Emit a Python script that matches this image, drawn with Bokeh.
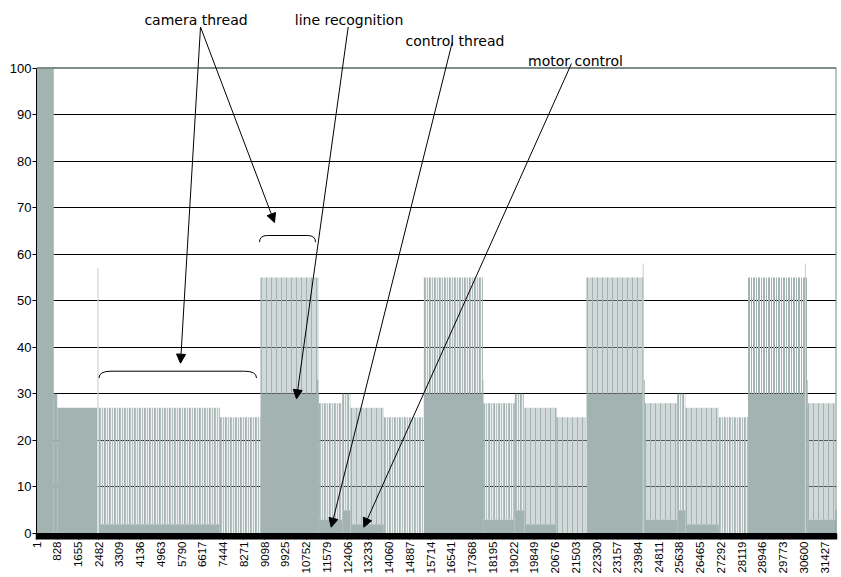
import math
from bokeh.plotting import figure
from bokeh.models import Range1d, FixedTicker, Label, Arrow, NormalHead
from bokeh.embed import file_html
from bokeh.resources import INLINE

# ---------------- data ----------------
tick_labels = [1, 828, 1655, 2482, 3309, 4136, 4963, 5790, 6617, 7444, 8271,
               9098, 9925, 10752, 11579, 12406, 13233, 14060, 14887, 15714,
               16541, 17368, 18195, 19022, 19849, 20676, 21503, 22330, 23157,
               23984, 24811, 25638, 26465, 27292, 28119, 28946, 29773, 30600,
               31427]
y_ticks = [0, 10, 20, 30, 40, 50, 60, 70, 80, 90, 100]

# load segments: solid level (base) and short, dense peaks (peak)
seg_start = [0, 690, 825, 2484, 7309, 8931, 11256, 12189, 12520, 13848,
             15443, 17811, 19071, 19458, 20734, 21930, 24242, 25546, 25877,
             27205, 28369, 30742, 31860]
seg_end = [690, 825, 2420, 7309, 8931, 11256, 12189, 12520, 13848, 15443,
           17811, 19071, 19458, 20734, 21930, 24242, 25546, 25877, 27205,
           28369, 30742, 31860, 31950]
seg_base = [100, 30, 27, 2, 0, 30, 3, 5, 2, 0, 30, 3, 5, 2, 0, 30, 3, 5, 2,
            0, 30, 3, 5]
seg_peak = [100, 30, 27, 27, 25, 55, 28, 30, 27, 25, 55, 28, 30, 27, 25, 55,
            28, 30, 27, 25, 55, 28, 5]

# single samples
spike_x = [11210, 17790, 24225, 30720]
spike_top = [33, 33, 33, 33]
light_spike_x = [2450, 24190, 30660]
light_spike_top = [57, 58, 58]

annotations = ["camera thread", "line recognition", "control thread", "motor control"]

# ---------------- geometry ----------------
W, H = 840, 576
FRAME_L, FRAME_R = 36, 836     # canvas x of plot area
Y0_PX, Y100_PX = 533, 67.5     # canvas y of values 0 and 100
X_END = 31898
frame_w = FRAME_R - FRAME_L
PX_PER_UNIT = (Y0_PX - Y100_PX) / 100.0
Y_TOP = Y0_PX / PX_PER_UNIT


def px_x(px):
    return (px - FRAME_L) * X_END / frame_w


def px_y(py):
    return (Y0_PX - py) / PX_PER_UNIT


BAR = "#a3b3b1"
LIGHT = "#c9d4d2"
BORDER = "#7d8b8a"

p = figure(width=W, height=H, output_backend="svg", toolbar_location=None,
           x_range=Range1d(0, X_END), y_range=Range1d(0, Y_TOP),
           min_border_left=FRAME_L, min_border_top=0,
           min_border_right=W - FRAME_R, min_border_bottom=H - Y0_PX)
p.background_fill_color = "white"
p.border_fill_color = "white"
p.outline_line_color = None

# solid parts
solid = [(s, e, b) for s, e, b in zip(seg_start, seg_end, seg_base) if b > 0]
p.quad(left=[s for s, _, _ in solid], right=[e for _, e, _ in solid],
       bottom=0, top=[b for _, _, b in solid],
       fill_color=BAR, line_color=None)

# dense short peaks: drawn as a texture (thick dashed stroke between base and peak)
dense = [(s, e, b, t) for s, e, b, t in zip(seg_start, seg_end, seg_base, seg_peak) if t > b]
p.segment(x0=[d[0] for d in dense], x1=[d[1] for d in dense],
          y0=[(d[2] + d[3]) / 2 for d in dense], y1=[(d[2] + d[3]) / 2 for d in dense],
          line_width=[(d[3] - d[2]) * PX_PER_UNIT for d in dense],
          line_color=BAR, line_dash="2 1 1 1", line_cap="butt")

p.vbar(x=spike_x, top=spike_top, bottom=0, width=55, fill_color=BAR, line_color=None)
p.vbar(x=light_spike_x, top=light_spike_top, bottom=0, width=45, fill_color=LIGHT, line_color=None)

# plot-area border (top and right)
p.segment(x0=[0, X_END], y0=[100, 0], x1=[X_END, X_END], y1=[100, 100],
          line_color=BORDER, line_width=2)

# axes
xa = p.xaxis[0]
xa.ticker = FixedTicker(ticks=tick_labels, minor_ticks=list(range(0, X_END + 30, 30)))
xa.major_label_overrides = {t: str(t) for t in tick_labels}
xa.major_label_orientation = math.pi / 2
xa.major_label_text_font = "Liberation Sans"
xa.major_label_text_font_size = "11.5px"
xa.major_label_text_color = "black"
xa.major_label_standoff = 2
xa.axis_line_color = "black"
xa.major_tick_out = 6
xa.major_tick_in = 0
xa.major_tick_line_color = "black"
xa.minor_tick_out = 6
xa.minor_tick_in = 0
xa.minor_tick_line_width = 1.5
xa.minor_tick_line_color = "black"

ya = p.yaxis[0]
ya.ticker = FixedTicker(ticks=y_ticks)
ya.bounds = (0, 100)
ya.major_label_text_font = "Liberation Sans"
ya.major_label_text_font_size = "13px"
ya.major_label_text_color = "black"
ya.major_label_standoff = 1
ya.axis_line_color = "black"
ya.major_tick_out = 4
ya.major_tick_in = 0
ya.minor_tick_line_color = None

p.xgrid.grid_line_color = None
p.ygrid.ticker = FixedTicker(ticks=y_ticks[1:-1])
p.ygrid.grid_line_color = "black"
p.ygrid.grid_line_width = 1

# brackets
def bracket(x0, x1, y_end, y_top, hook):
    p.quadratic(x0=[px_x(x0)], y0=[px_y(y_end)], x1=[px_x(x0 + hook)], y1=[px_y(y_top)],
                cx=[px_x(x0)], cy=[px_y(y_top)], line_color="black", line_width=1)
    p.line([px_x(x0 + hook), px_x(x1 - hook)], [px_y(y_top), px_y(y_top)],
           line_color="black", line_width=1)
    p.quadratic(x0=[px_x(x1 - hook)], y0=[px_y(y_top)], x1=[px_x(x1)], y1=[px_y(y_end)],
                cx=[px_x(x1)], cy=[px_y(y_top)], line_color="black", line_width=1)

bracket(98.5, 256, 377.5, 370.7, 12)
bracket(259, 315, 241.7, 235, 8)

# labels
label_pos = [(195.5, 19), (348.5, 19), (454.5, 40), (575, 60)]
for txt, (lx, ly) in zip(annotations, label_pos):
    p.add_layout(Label(x=px_x(lx), y=px_y(ly), text=txt, text_align="center",
                       text_baseline="alphabetic", text_font="DejaVu Sans",
                       text_font_size="14px", text_color="black"))

arrows = [((200, 26.5), (180, 362.7)),
          ((200, 26.5), (274, 222)),
          ((347.7, 26.5), (296, 398.3)),
          ((451.7, 42), (330.7, 526.7)),
          ((571, 63), (363.3, 526.7))]
for (sx, sy), (ex, ey) in arrows:
    p.add_layout(Arrow(end=NormalHead(size=9, fill_color="black", line_color="black"),
                       x_start=px_x(sx), y_start=px_y(sy), x_end=px_x(ex), y_end=px_y(ey),
                       line_color="black", line_width=1))

open("out.html", "w").write(file_html(p, INLINE))
